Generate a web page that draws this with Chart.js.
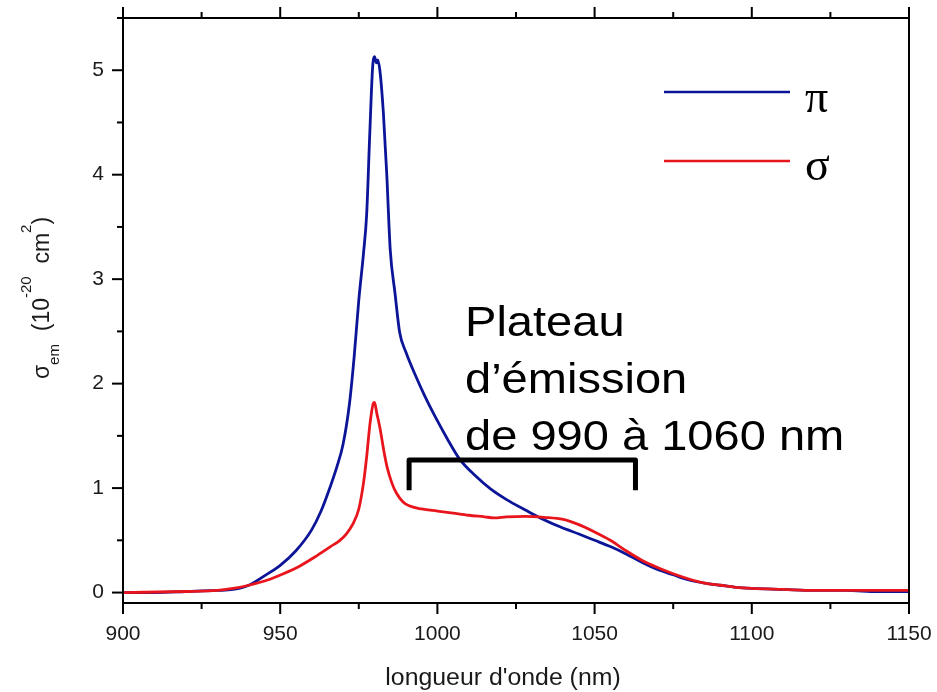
<!DOCTYPE html>
<html>
<head>
<meta charset="utf-8">
<script src="https://cdn.jsdelivr.net/npm/chart.js@4.4.0/dist/chart.umd.min.js"></script>
<style>
    html, body { margin: 0; padding: 0; background: #fff; }
    #wrap { width: 937px; height: 692px; position: relative; }
</style>
</head>
<body>
<div id="wrap"><canvas id="chart"></canvas></div>
<script>
// Emission cross-section, pi polarisation
const PI_NM = [900, 910, 920, 930, 935, 940, 945, 950, 955, 960, 963, 966, 968, 970, 972, 973.5,
    975, 976.5, 977.5, 978.5, 979.4, 980, 980.6, 981, 981.7, 982.8, 983.9, 985, 986.5, 988, 990,
    993, 996, 999, 1003, 1007, 1012, 1017, 1022, 1028, 1033, 1039, 1045, 1050, 1055, 1060, 1065,
    1070, 1075, 1080, 1085, 1090, 1095, 1100, 1110, 1120, 1130, 1140, 1150];
const PI_VAL = [0.00, 0.00, 0.01, 0.02, 0.03, 0.07, 0.16, 0.26, 0.40, 0.60, 0.78, 1.02, 1.20, 1.42, 1.80, 2.25,
    2.80, 3.25, 3.62, 4.40, 5.03, 5.13, 5.07, 5.10, 5.00, 4.60, 4.00, 3.28, 2.87, 2.49, 2.30,
    2.08, 1.88, 1.70, 1.48, 1.28, 1.12, 0.99, 0.89, 0.79, 0.71, 0.63, 0.56, 0.50, 0.44, 0.37, 0.29,
    0.22, 0.17, 0.12, 0.09, 0.07, 0.05, 0.04, 0.03, 0.02, 0.02, 0.01, 0.01];

// Emission cross-section, sigma polarisation
const SIGMA_NM = [900, 920, 930, 935, 940, 946, 951, 956, 961, 966, 969, 971, 973, 975, 976.5,
    977.5, 978.5, 979.5, 980, 980.7, 981.7, 983, 984, 985.5, 987, 989, 991, 995, 1000, 1005, 1010,
    1015, 1018, 1022, 1028, 1034, 1040, 1045, 1050, 1055, 1060, 1065, 1070, 1075, 1080, 1085,
    1090, 1095, 1100, 1110, 1120, 1135, 1150];
const SIGMA_VAL = [0.00, 0.01, 0.02, 0.04, 0.07, 0.12, 0.18, 0.25, 0.34, 0.44, 0.50, 0.56, 0.65, 0.80, 1.05,
    1.30, 1.60, 1.80, 1.82, 1.72, 1.58, 1.35, 1.20, 1.05, 0.95, 0.87, 0.83, 0.80, 0.78, 0.76, 0.74,
    0.725, 0.715, 0.725, 0.73, 0.72, 0.70, 0.65, 0.58, 0.50, 0.40, 0.31, 0.24, 0.18, 0.13, 0.09,
    0.07, 0.05, 0.04, 0.03, 0.02, 0.02, 0.02];

// Axis ticks
const X_TICKS = [900, 950, 1000, 1050, 1100, 1150];
const Y_TICKS = [0, 1, 2, 3, 4, 5];

// Series labels / annotation text
const SERIES_LABELS = ["\u03c0", "\u03c3"];
const ANNOT_LINES = ["Plateau", "d\u2019\u00e9mission", "de 990 \u00e0 1060 nm"];
const BRACKET_NM = [991, 1063];

const BLUE = "#0c1598";
const RED = "#e8161c";
const SANS = "'Liberation Sans', Arial, sans-serif";
const STRETCH = 1.12; // the source picture is a little wider than tall

// ---- Frame, minor/major ticks, titles, legend and annotation ----
const decor = {
    id: "decor",
    afterDatasetsDraw(chart) {
        const { ctx, chartArea: a, scales: { x, y } } = chart;
        ctx.save();
        ctx.strokeStyle = "#000";
        ctx.lineWidth = 2;
        ctx.strokeRect(a.left, a.top, a.right - a.left, a.bottom - a.top);

        // x ticks on top and bottom, every 25 nm
        for (let v = X_TICKS[0]; v <= X_TICKS[X_TICKS.length - 1]; v += 25) {
            const len = X_TICKS.includes(v) ? 11 : 6;
            const px = x.getPixelForValue(v);
            ctx.beginPath();
            ctx.moveTo(px, a.bottom); ctx.lineTo(px, a.bottom + len);
            ctx.moveTo(px, a.top); ctx.lineTo(px, a.top - len);
            ctx.stroke();
        }
        // y ticks on the left, every 0.5
        for (let v = 0; v <= 5.5; v += 0.5) {
            const len = Y_TICKS.includes(v) ? 11 : 6;
            const py = y.getPixelForValue(v);
            ctx.beginPath();
            ctx.moveTo(a.left, py); ctx.lineTo(a.left - len, py);
            ctx.stroke();
        }

        // x title
        ctx.fillStyle = "#1a1a1a";
        ctx.font = "23px " + SANS;
        ctx.textAlign = "center";
        ctx.textBaseline = "alphabetic";
        ctx.save();
        ctx.translate(503, 685);
        ctx.scale(1.08, 1);
        ctx.fillText("longueur d'onde (nm)", 0, 0);
        ctx.restore();

        // y title with sub/superscripts, rotated
        const parts = [
            { t: "\u03c3", f: 23, dy: 0 },
            { t: "em", f: 15, dy: 10 },
            { t: "  (10", f: 23, dy: 0 },
            { t: "-20", f: 15, dy: -18 },
            { t: "  cm", f: 23, dy: 0 },
            { t: "2", f: 15, dy: -18 },
            { t: ")", f: 23, dy: 0 }
        ];
        let total = 0;
        parts.forEach((p) => { ctx.font = p.f + "px " + SANS; p.w = ctx.measureText(p.t).width; total += p.w; });
        ctx.save();
        ctx.translate(49, 298);
        ctx.rotate(-Math.PI / 2);
        ctx.textAlign = "left";
        let cx = -total / 2;
        parts.forEach((p) => {
            ctx.font = p.f + "px " + SANS;
            ctx.fillText(p.t, cx, p.dy);
            cx += p.w;
        });
        ctx.restore();

        // legend
        const legendRows = [{ c: BLUE, ly: 92, ty: 112 }, { c: RED, ly: 161, ty: 180 }];
        legendRows.forEach((r, i) => {
            ctx.strokeStyle = r.c;
            ctx.lineWidth = 2.5;
            ctx.beginPath();
            ctx.moveTo(664, r.ly); ctx.lineTo(790, r.ly);
            ctx.stroke();
            ctx.fillStyle = "#000";
            ctx.font = "46px 'Liberation Serif', 'Times New Roman', serif";
            ctx.textAlign = "left";
            ctx.fillText(SERIES_LABELS[i], 805, r.ty);
        });

        // annotation text
        ctx.fillStyle = "#000";
        ctx.font = "42px " + SANS;
        ctx.textAlign = "left";
        ANNOT_LINES.forEach((line, i) => {
            ctx.save();
            ctx.translate(465, 336 + i * 57);
            ctx.scale(STRETCH, 1);
            ctx.fillText(line, 0, 0);
            ctx.restore();
        });

        // bracket over the plateau
        const bx0 = x.getPixelForValue(BRACKET_NM[0]);
        const bx1 = x.getPixelForValue(BRACKET_NM[1]);
        const byTop = y.getPixelForValue(1.27);
        const byBot = y.getPixelForValue(0.98);
        ctx.strokeStyle = "#000";
        ctx.lineWidth = 5;
        ctx.lineJoin = "round";
        ctx.beginPath();
        ctx.moveTo(bx0, byBot);
        ctx.lineTo(bx0, byTop);
        ctx.lineTo(bx1, byTop);
        ctx.lineTo(bx1, byBot);
        ctx.stroke();

        ctx.restore();
    }
};

const ctx = document.getElementById("chart").getContext("2d");
new Chart(ctx, {
    type: "line",
    data: {
        datasets: [
            {
                label: SERIES_LABELS[0],
                data: PI_NM.map((nm, i) => ({ x: nm, y: PI_VAL[i] })),
                borderColor: BLUE,
                borderWidth: 2.8,
                pointRadius: 0,
                cubicInterpolationMode: "monotone",
                order: 1
            },
            {
                label: SERIES_LABELS[1],
                data: SIGMA_NM.map((nm, i) => ({ x: nm, y: SIGMA_VAL[i] })),
                borderColor: RED,
                borderWidth: 2.8,
                pointRadius: 0,
                cubicInterpolationMode: "monotone",
                order: 0
            }
        ]
    },
    options: {
        responsive: true,
        maintainAspectRatio: false,
        animation: false,
        layout: { padding: { top: 18, right: 28, left: 0, bottom: 0 } },
        plugins: {
            legend: { display: false },
            tooltip: { enabled: false }
        },
        scales: {
            x: {
                type: "linear",
                min: 900,
                max: 1150,
                afterBuildTicks: (s) => { s.ticks = X_TICKS.map((v) => ({ value: v })); },
                afterFit: (s) => { s.height = 89; s.paddingLeft = 0; s.paddingRight = 0; },
                grid: { display: false, drawTicks: false },
                border: { display: false },
                ticks: {
                    color: "#1a1a1a", font: { family: SANS, size: 21 }, padding: 19, maxRotation: 0,
                    callback: (v) => String(v)
                }
            },
            y: {
                type: "linear",
                min: -0.1,
                max: 5.5,
                afterBuildTicks: (s) => { s.ticks = Y_TICKS.map((v) => ({ value: v })); },
                afterFit: (s) => { s.width = 123; s.paddingTop = 0; s.paddingBottom = 0; },
                grid: { display: false, drawTicks: false },
                border: { display: false },
                ticks: {
                    color: "#1a1a1a", font: { family: SANS, size: 21 }, padding: 19,
                    callback: (v) => String(v)
                }
            }
        }
    },
    plugins: [decor]
});
</script>
</body>
</html>
